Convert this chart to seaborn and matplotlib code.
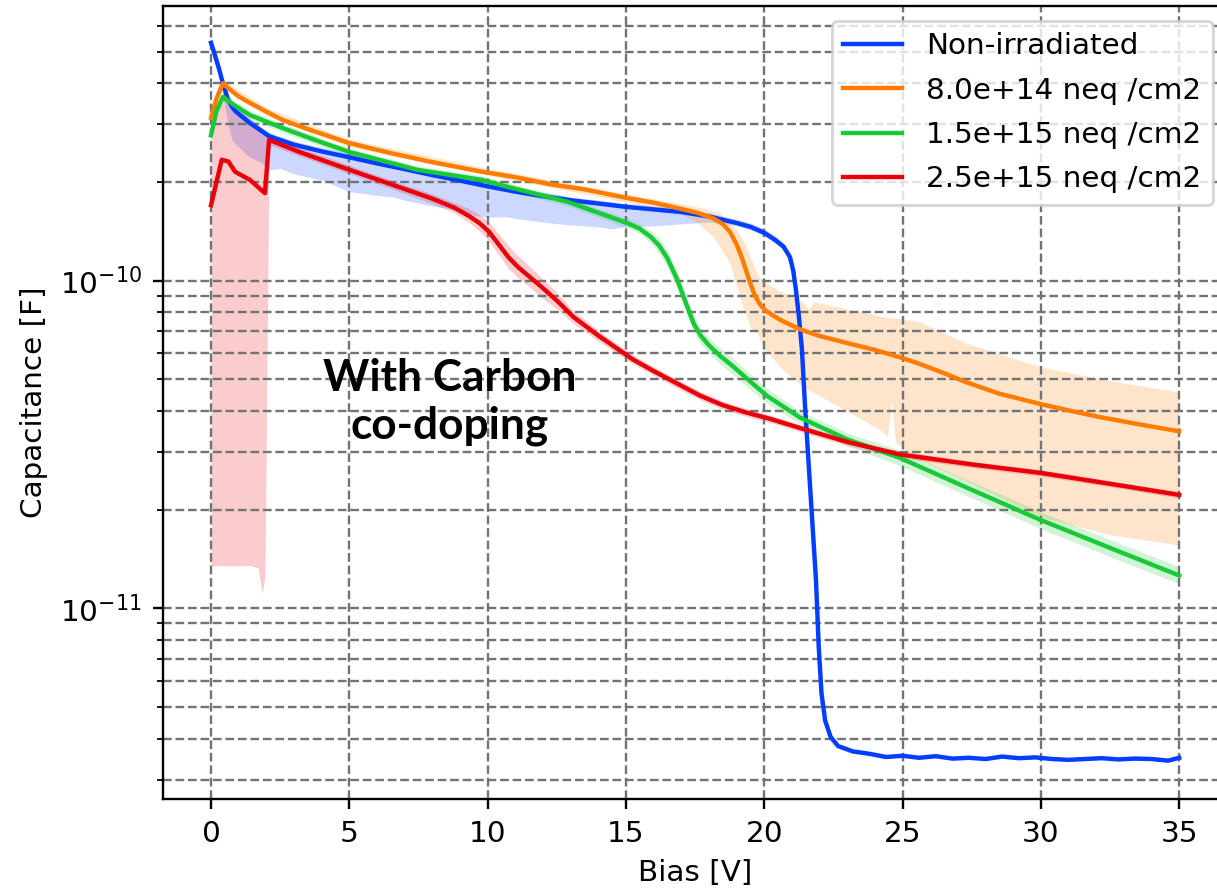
import matplotlib
matplotlib.use("Agg")
import matplotlib.pyplot as plt
from matplotlib.ticker import NullFormatter, FixedLocator
import seaborn as sns

# ---------------- data ----------------
labels = ["Non-irradiated", "8.0e+14 neq /cm2", "1.5e+15 neq /cm2", "2.5e+15 neq /cm2"]
y_major_ticks = [1e-11, 1e-10]
x_ticks = [0, 5, 10, 15, 20, 25, 30, 35]

blue_v = [0, 0.15, 0.3, 0.43, 0.6, 0.75, 0.9, 1.4, 2.1, 3, 4, 5, 6, 7, 8, 9, 10, 11, 12, 13,
          14, 15, 16, 17, 18, 19, 19.5, 20, 20.4, 20.7, 20.93, 21.05, 21.15, 21.25, 21.36, 21.47,
          21.65, 21.87, 21.97, 22.07, 22.2, 22.4, 22.67, 23.2, 23.8, 24.4, 25, 25.6, 26.2, 26.8,
          27.4, 28, 28.6, 29.2, 29.8, 30.4, 31, 31.6, 32.2, 32.8, 33.4, 34, 34.6, 35]
blue_c = [5.32e-10, 4.85e-10, 4.4e-10, 4.0e-10, 3.6e-10, 3.4e-10, 3.28e-10, 3.03e-10, 2.76e-10, 2.6e-10,
          2.48e-10, 2.38e-10, 2.28e-10, 2.19e-10, 2.1e-10, 2.02e-10, 1.94e-10, 1.87e-10, 1.81e-10, 1.76e-10,
          1.72e-10, 1.68e-10, 1.65e-10, 1.62e-10, 1.57e-10, 1.5e-10, 1.46e-10, 1.4e-10, 1.33e-10, 1.27e-10,
          1.18e-10, 1.07e-10, 9.3e-11, 7.8e-11, 6.2e-11, 4.2e-11,
          2.4e-11, 1.22e-11, 7.6e-12, 5.5e-12, 4.55e-12, 4.05e-12, 3.8e-12, 3.66e-12, 3.6e-12, 3.52e-12,
          3.55e-12, 3.5e-12, 3.54e-12, 3.48e-12,
          3.5e-12, 3.47e-12, 3.53e-12, 3.49e-12, 3.51e-12, 3.47e-12, 3.45e-12, 3.47e-12, 3.49e-12, 3.46e-12,
          3.48e-12, 3.47e-12, 3.43e-12, 3.5e-12]
blue_band_v = [0, 0.15, 0.3, 0.43, 0.6, 0.75, 0.9, 1.4, 1.8, 2.1, 2.5, 3, 3.5, 4, 4.5, 5, 6, 6.6, 7, 8,
               8.6, 9, 10, 10.6, 11, 12, 12.6, 13, 14, 14.5, 15, 16, 16.5, 17, 18, 19, 19.5, 20, 20.4, 20.7]
blue_band_lo = [5.15e-10, 4.6e-10, 4.15e-10, 3.7e-10, 3.05e-10, 2.7e-10, 2.6e-10, 2.38e-10, 2.3e-10, 2.18e-10,
                2.2e-10, 2.12e-10, 2.07e-10, 2.03e-10, 1.95e-10, 1.87e-10, 1.82e-10, 1.8e-10, 1.76e-10, 1.69e-10,
                1.66e-10, 1.61e-10, 1.56e-10, 1.57e-10, 1.55e-10, 1.51e-10, 1.49e-10, 1.48e-10, 1.46e-10, 1.44e-10,
                1.46e-10, 1.47e-10, 1.48e-10, 1.49e-10, 1.51e-10, 1.47e-10, 1.43e-10, 1.37e-10, 1.30e-10, 1.24e-10]
blue_band_hi = [5.5e-10, 5.0e-10, 4.55e-10, 4.15e-10, 3.72e-10, 3.5e-10, 3.38e-10, 3.12e-10, 2.95e-10, 2.84e-10,
                2.76e-10, 2.67e-10, 2.61e-10, 2.55e-10, 2.5e-10, 2.44e-10, 2.34e-10, 2.28e-10, 2.25e-10, 2.16e-10,
                2.11e-10, 2.07e-10, 1.99e-10, 1.95e-10, 1.92e-10, 1.86e-10, 1.83e-10, 1.8e-10, 1.76e-10, 1.74e-10,
                1.72e-10, 1.69e-10, 1.68e-10, 1.66e-10, 1.61e-10, 1.54e-10, 1.5e-10, 1.44e-10, 1.37e-10, 1.3e-10]

orange_v = [0, 0.2, 0.43, 0.7, 1.0, 1.4, 2, 2.6, 3.5, 5, 6.5, 8, 9.8, 11, 12.25, 13.5, 15, 16, 16.95, 17.6,
            18.15, 18.5, 18.76, 19.0, 19.2, 19.35, 19.5, 19.65, 19.85, 20.05, 20.3, 20.57, 21.3, 22.0, 23.0,
            24.0, 24.9, 25.6, 26.5, 27.3, 28.5, 30, 31, 32.1, 33.5, 35]
orange_c = [3.14e-10, 3.6e-10, 4.0e-10, 3.82e-10, 3.65e-10, 3.49e-10, 3.28e-10, 3.09e-10, 2.9e-10, 2.63e-10,
            2.45e-10, 2.3e-10, 2.15e-10, 2.07e-10, 1.97e-10, 1.9e-10, 1.79e-10, 1.73e-10, 1.66e-10, 1.61e-10,
            1.55e-10, 1.49e-10, 1.41e-10, 1.29e-10, 1.17e-10, 1.07e-10, 9.8e-11, 9.05e-11, 8.45e-11, 8.1e-11,
            7.85e-11, 7.6e-11, 7.1e-11, 6.78e-11, 6.45e-11,
            6.15e-11, 5.84e-11, 5.58e-11, 5.22e-11, 4.9e-11, 4.52e-11, 4.2e-11, 4.02e-11, 3.84e-11, 3.65e-11,
            3.47e-11]
orange_band_v = [0, 0.43, 2, 5, 10, 15, 16.95, 17.6, 18.15, 18.4, 18.76, 19.0, 19.3, 19.5, 19.73, 19.96,
                 20.57, 21.4, 21.6, 21.8, 23.0, 24.2, 24.45, 24.6, 24.75, 25.6, 27.3, 30, 32.5, 35]
orange_band_lo = [3.06e-10, 3.9e-10, 3.19e-10, 2.56e-10, 2.1e-10, 1.74e-10, 1.61e-10, 1.5e-10, 1.36e-10, 1.27e-10,
                  1.13e-10, 9.6e-11, 8.0e-11, 7.2e-11, 7.0e-11, 6.3e-11, 5.45e-11, 4.75e-11, 4.65e-11, 4.55e-11,
                  4.0e-11, 3.5e-11, 3.35e-11, 4.3e-11, 3.2e-11, 2.85e-11, 2.45e-11, 1.9e-11, 1.68e-11, 1.56e-11]
orange_band_hi = [3.22e-10, 4.1e-10, 3.37e-10, 2.7e-10, 2.2e-10, 1.84e-10, 1.72e-10, 1.68e-10, 1.63e-10, 1.61e-10,
                  1.5e-10, 1.43e-10, 1.3e-10, 1.18e-10, 1.05e-10, 1.0e-10, 9.3e-11, 8.6e-11, 8.2e-11, 8.6e-11,
                  8.2e-11, 7.8e-11, 7.75e-11, 7.7e-11, 7.7e-11, 7.5e-11, 6.45e-11, 5.45e-11, 4.95e-11, 4.57e-11]

green_v = [0, 0.2, 0.43, 0.8, 1.41, 2.6, 3.8, 5, 7.45, 9.8, 10.45, 12.9, 15.04, 15.5, 15.9, 16.2, 16.5,
           16.85, 17.2, 17.45, 17.7, 18.0, 18.4, 18.9, 19.5, 20.1, 21.3, 23, 24.9, 27.3, 30, 32.75, 35]
green_c = [2.78e-10, 3.3e-10, 3.64e-10, 3.45e-10, 3.2e-10, 2.92e-10, 2.68e-10, 2.47e-10, 2.18e-10, 2.03e-10,
           1.96e-10, 1.74e-10, 1.50e-10, 1.44e-10, 1.36e-10, 1.28e-10, 1.17e-10, 1.01e-10, 8.4e-11, 7.4e-11,
           6.8e-11, 6.35e-11, 5.9e-11, 5.45e-11, 4.92e-11, 4.45e-11, 3.82e-11, 3.28e-11, 2.88e-11, 2.34e-11,
           1.86e-11, 1.5e-11, 1.26e-11]
green_lo = [2.7e-10, 3.2e-10, 3.53e-10, 3.35e-10, 3.1e-10, 2.83e-10, 2.6e-10, 2.4e-10, 2.12e-10, 1.97e-10,
            1.9e-10, 1.69e-10, 1.45e-10, 1.39e-10, 1.3e-10, 1.21e-10, 1.1e-10, 0.95e-10, 7.9e-11, 7.0e-11,
            6.4e-11, 6.0e-11, 5.57e-11, 5.15e-11, 4.65e-11, 4.22e-11, 3.65e-11, 3.13e-11, 2.73e-11, 2.21e-11,
            1.75e-11, 1.41e-11, 1.19e-11]
green_hi = [2.86e-10, 3.4e-10, 3.75e-10, 3.55e-10, 3.3e-10, 3.01e-10, 2.76e-10, 2.54e-10, 2.24e-10, 2.09e-10,
            2.02e-10, 1.79e-10, 1.55e-10, 1.49e-10, 1.42e-10, 1.35e-10, 1.24e-10, 1.07e-10, 8.9e-11, 7.85e-11,
            7.2e-11, 6.7e-11, 6.25e-11, 5.75e-11, 5.2e-11, 4.68e-11, 4.0e-11, 3.43e-11, 3.04e-11, 2.48e-11,
            1.97e-11, 1.59e-11, 1.34e-11]

red_v = [0, 0.39, 0.63, 0.87, 1.41, 1.7, 1.85, 1.95, 2.1, 3.2, 5, 6.5, 8, 8.8, 9.3, 9.7, 10.05, 10.4,
         10.75, 11.1, 11.5, 11.9, 12.5, 13.1, 14.0, 15.25, 16.0, 16.8, 17.7, 18.5, 19.3, 20.2, 21.3, 23,
         24.9, 27.5, 30, 32.5, 35]
red_c = [1.70e-10, 2.34e-10, 2.31e-10, 2.15e-10, 2.03e-10, 1.93e-10, 1.88e-10, 1.85e-10, 2.69e-10, 2.47e-10,
         2.18e-10, 1.97e-10, 1.78e-10, 1.67e-10, 1.58e-10, 1.5e-10, 1.41e-10, 1.29e-10,
         1.18e-10, 1.1e-10, 1.03e-10, 9.65e-11, 8.7e-11, 7.75e-11, 6.8e-11, 5.75e-11, 5.3e-11, 4.88e-11,
         4.45e-11, 4.17e-11, 3.97e-11, 3.79e-11, 3.55e-11, 3.22e-11,
         2.95e-11, 2.75e-11, 2.59e-11, 2.4e-11, 2.22e-11]
red_lo = [1.35e-11, 1.35e-11, 1.35e-11, 1.35e-11, 1.35e-11, 1.33e-11, 1.11e-11, 1.25e-11, 2.6e-10, 2.4e-10,
          2.12e-10, 1.91e-10, 1.72e-10, 1.61e-10, 1.51e-10, 1.42e-10, 1.32e-10, 1.2e-10,
          1.09e-10, 1.02e-10, 0.96e-10, 8.95e-11, 8.2e-11, 7.4e-11, 6.55e-11, 5.57e-11, 5.14e-11, 4.73e-11,
          4.32e-11, 4.05e-11, 3.86e-11, 3.69e-11, 3.46e-11, 3.14e-11,
          2.88e-11, 2.69e-11, 2.53e-11, 2.35e-11, 2.17e-11]
red_hi = [2.75e-10, 3.7e-10, 3.5e-10, 3.35e-10, 3.12e-10, 2.98e-10, 2.92e-10, 2.88e-10, 2.78e-10, 2.55e-10,
          2.25e-10, 2.03e-10, 1.84e-10, 1.73e-10, 1.66e-10, 1.59e-10, 1.51e-10, 1.39e-10,
          1.28e-10, 1.19e-10, 1.11e-10, 1.03e-10, 9.2e-11, 8.1e-11, 7.05e-11, 5.93e-11, 5.46e-11, 5.03e-11,
          4.58e-11, 4.29e-11, 4.08e-11, 3.89e-11, 3.64e-11, 3.3e-11,
          3.02e-11, 2.81e-11, 2.65e-11, 2.45e-11, 2.27e-11]

annotation = "With Carbon\nco-doping"

# ---------------- figure ----------------
DPI = 212
fig = plt.figure(figsize=(1217 / DPI, 891 / DPI), dpi=DPI)
ax = fig.add_axes([162.6 / 1217, 1 - 799 / 891, 1065.0 / 1217, 793 / 891])

pal = sns.color_palette("bright")
colors = [pal[0], pal[1], pal[2], pal[3]]

series = [
    (blue_v, blue_c, blue_band_v, blue_band_lo, blue_band_hi),
    (orange_v, orange_c, orange_band_v, orange_band_lo, orange_band_hi),
    (green_v, green_c, green_v, green_lo, green_hi),
    (red_v, red_c, red_v, red_lo, red_hi),
]

ax.set_yscale("log")
handles = []
for (v, c, bv, lo, hi), col in zip(series, colors):
    ax.fill_between(bv, lo, hi, color=col, alpha=0.2, linewidth=0, zorder=1)
for (v, c, bv, lo, hi), col, lab in zip(series, colors, labels):
    sns.lineplot(x=v, y=c, color=col, linewidth=1.5, label=lab, ax=ax, sort=False,
                 estimator=None, legend=False)
    handles.append(ax.lines[-1])

ax.set_xlim(-1.75, 36.75)
ax.set_ylim(2.62e-12, 6.89e-10)
ax.set_xticks(x_ticks)
ax.yaxis.set_major_locator(FixedLocator(y_major_ticks))
ax.yaxis.set_minor_formatter(NullFormatter())

ax.grid(True, which="major", axis="both", linestyle="--", color="0.45", linewidth=0.8)
ax.grid(True, which="minor", axis="y", linestyle="--", color="0.45", linewidth=0.8)

ax.set_xlabel("Bias [V]", fontsize=10)
ax.set_ylabel("Capacitance [F]", fontsize=10)

ax.legend(handles, labels, loc="upper right", fontsize=10, labelspacing=0.55)

ax.text(8.64, 4.26e-11, annotation, ha="center", va="center", fontsize=15,
        fontweight="bold", family=["Lato", "DejaVu Sans"], linespacing=1.25, zorder=5)

fig.savefig("out.png", dpi=DPI)
